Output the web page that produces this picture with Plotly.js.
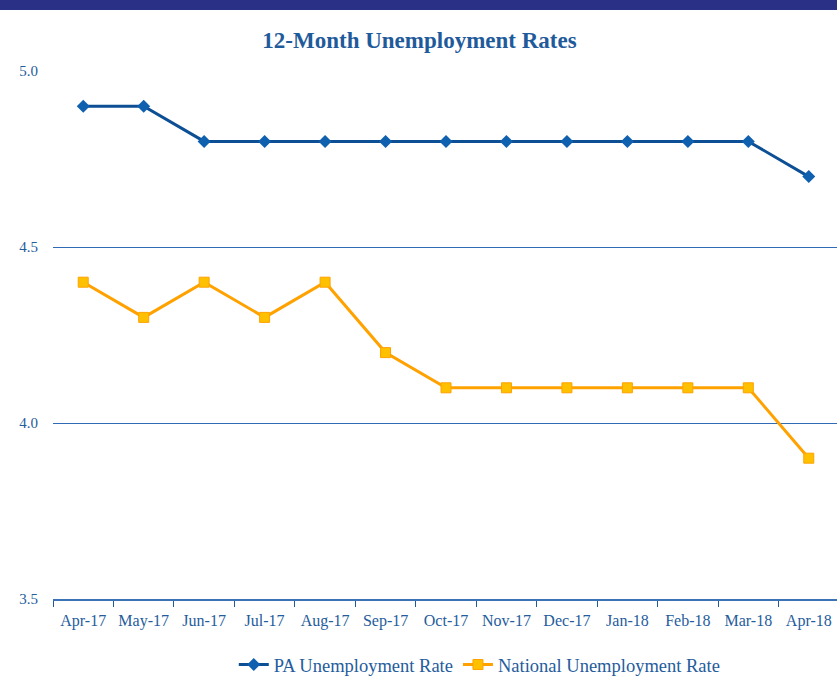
<!DOCTYPE html>
<html><head><meta charset="utf-8">
<script src="https://cdn.plot.ly/plotly-3.0.1.min.js"></script>
<style>html,body{margin:0;padding:0;overflow:hidden;background:#fff}#bar{position:absolute;left:0;top:0;width:837px;height:10px;background:#2b3087;z-index:5}</style>
</head><body>
<div id="bar"></div>
<div id="chart" style="width:839px;height:688px"></div>
<script>
const months = ["Apr-17","May-17","Jun-17","Jul-17","Aug-17","Sep-17","Oct-17","Nov-17","Dec-17","Jan-18","Feb-18","Mar-18","Apr-18"];
const paRate = [4.9,4.9,4.8,4.8,4.8,4.8,4.8,4.8,4.8,4.8,4.8,4.8,4.7];
const nationalRate = [4.4,4.3,4.4,4.3,4.4,4.2,4.1,4.1,4.1,4.1,4.1,4.1,3.9];

const fontFam = "Liberation Serif, serif";
const txtColor = "#255c9c";
const traces = [
  {x: months, y: paRate, name: "PA Unemployment Rate", type: "scatter", mode: "lines+markers",
   line: {color: "#0d4f94", width: 3}, marker: {symbol: "diamond", size: 10, color: "#1060b0"}},
  {x: months, y: nationalRate, name: "National Unemployment Rate", type: "scatter", mode: "lines+markers",
   line: {color: "#ffa200", width: 3}, marker: {symbol: "square", size: 10, color: "#ffc000", line: {color: "#ffa200", width: 1}}}
];
const layout = {
  width: 839, height: 688,
  margin: {l: 53, r: 0, t: 71, b: 89},
  paper_bgcolor: "#fff", plot_bgcolor: "#fff",
  font: {family: fontFam, color: txtColor, size: 16},
  title: {text: "<b>12-Month Unemployment Rates</b>", font: {family: fontFam, size: 23, color: "#1f5b9b"},
          x: 0.5, xref: "container", y: 0.942, yref: "container", yanchor: "middle"},
  xaxis: {type: "category", tickson: "boundaries", ticks: "outside", ticklen: 6, tickcolor: "#1f5b9b",
          showline: true, linecolor: "#3a72b5", linewidth: 1.5, showgrid: false, zeroline: false,
          ticklabelstandoff: 6, tickfont: {size: 16, color: txtColor}, range: [-0.5, 12.5]},
  yaxis: {range: [3.5, 5.0], dtick: 0.5, tick0: 3.5, tickformat: ".1f", showgrid: true, gridcolor: "#2f6cb5",
          gridwidth: 1, zeroline: false, showline: false, ticks: "", ticklabelstandoff: 14,
          tickfont: {size: 15, color: txtColor}},
  legend: {orientation: "h", x: 0.23, xanchor: "left", y: -0.125, yanchor: "middle",
           font: {size: 18.5, color: txtColor}, itemwidth: 30},
  showlegend: true
};
Plotly.newPlot("chart", traces, layout, {displayModeBar: false, staticPlot: true});
</script>
</body></html>
